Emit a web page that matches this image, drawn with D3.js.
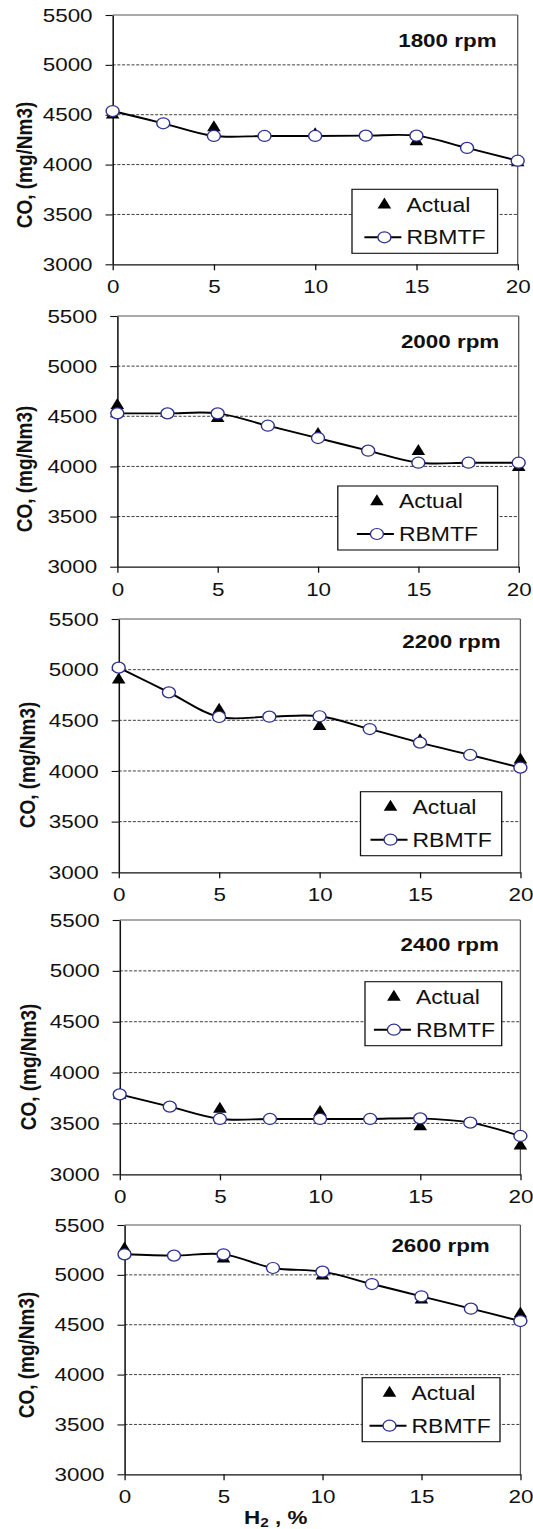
<!DOCTYPE html>
<html>
<head>
<meta charset="utf-8">
<script src="https://cdn.jsdelivr.net/npm/d3@7"></script>
<style>
  html, body { margin: 0; padding: 0; background: #fff; }
  svg { display: block; }
</style>
</head>
<body>
<div id="chart"></div>
<script>
// ---------- data ----------
const h2Actual = [0, 5, 10, 15, 20];
const h2Model = [0, 2.5, 5, 7.5, 10, 12.5, 15, 17.5, 20];

const panelTitles = ["1800 rpm", "2000 rpm", "2200 rpm", "2400 rpm", "2600 rpm"];

const actual1800 = [4500, 4370, 4300, 4230, 4020];
const model1800  = [4537, 4414, 4287, 4287, 4287, 4290, 4290, 4167, 4039];
const actual2000 = [4610, 4480, 4320, 4150, 3990];
const model2000  = [4529, 4529, 4529, 4406, 4283, 4157, 4037, 4037, 4037];
const actual2200 = [4900, 4600, 4440, 4300, 4110];
const model2200  = [5020, 4776, 4533, 4536, 4540, 4414, 4280, 4158, 4033];
const actual2400 = [3780, 3640, 3610, 3470, 3280];
const model2400  = [3786, 3665, 3544, 3544, 3544, 3544, 3550, 3508, 3377];
const actual2600 = [5260, 5160, 4990, 4750, 4610];
const model2600  = [5206, 5193, 5206, 5069, 5032, 4908, 4785, 4661, 4537];

const actualSeries = [actual1800, actual2000, actual2200, actual2400, actual2600];
const modelSeries  = [model1800, model2000, model2200, model2400, model2600];

const xTicks = [0, 5, 10, 15, 20];
const yTicks = [3000, 3500, 4000, 4500, 5000, 5500];
const gridValues = [3500, 4000, 4500, 5000];
const legendLabels = ["Actual", "RBMTF"];
const yLabel = "CO, (mg/Nm3)";

// ---------- layout (image px) ----------
const W = 533, H = 1529, S = 1.18;          // horizontal stretch of the original
const VW = W / S;
const panelTop    = [15, 316, 619, 920, 1225];
const panelBottom = [264.3, 566.7, 872.3, 1174.3, 1474.3];
const panelLeft   = [112.6, 117.3, 118.7, 119.7, 124.5];
const panelRight  = [517.7, 518.7, 520.4, 520.4, 520.4];
const titleRight  = [496.6, 499.3, 500.7, 499, 489.8];
const titleBase   = [46.7, 348, 648, 950.7, 1251.7];
const yLabX       = [32.3, 32.3, 35, 35.5, 34];
const yLabY       = [165, 469, 765, 1067, 1355];
// legend: left, top, width, symbol x
const legendBox = [
  [352, 189.3, 145.6, 384.4],
  [337.8, 486, 159.8, 376.9],
  [360.5, 791.7, 141.2, 390.5],
  [365, 981.7, 136.7, 393.9],
  [362.2, 1377.7, 137.8, 389.5]
];

const FONT = "'Liberation Sans', Arial, Helvetica, sans-serif";
const FS = 19;

const svg = d3.select("#chart").append("svg")
  .attr("width", W).attr("height", H)
  .attr("viewBox", `0 0 ${VW} ${H}`)
  .attr("preserveAspectRatio", "none")
  .style("font-family", FONT);

const triangle = {
  draw(ctx, size) {
    const w = 11.5, h = 11;
    ctx.moveTo(0, -h * 2 / 3);
    ctx.lineTo(w / 2, h / 3);
    ctx.lineTo(-w / 2, h / 3);
    ctx.closePath();
  }
};
const triPath = d3.symbol().type(triangle)();
const circleStroke = "#2b2f8f";

for (let i = 0; i < 5; i++) {
  const L = panelLeft[i] / S, R = panelRight[i] / S;
  const T = panelTop[i], B = panelBottom[i];
  const x = d3.scaleLinear().domain([0, 20]).range([L, R]);
  const y = d3.scaleLinear().domain([3000, 5500]).range([B, T]);
  const g = svg.append("g");

  // gridlines
  g.selectAll(".grid").data(gridValues).join("line")
    .attr("x1", L).attr("x2", R)
    .attr("y1", d => y(d)).attr("y2", d => y(d))
    .attr("stroke", "#222").attr("stroke-width", 0.8)
    .attr("stroke-dasharray", "2.6,1.4");

  // top / right border
  g.append("line").attr("x1", L).attr("x2", R).attr("y1", T).attr("y2", T)
    .attr("stroke", "#555").attr("stroke-width", 1.2);
  g.append("line").attr("x1", R).attr("x2", R).attr("y1", T).attr("y2", B)
    .attr("stroke", "#555").attr("stroke-width", 1.1);

  // axes
  const ax = g.append("g").attr("transform", `translate(0,${B})`)
    .call(d3.axisBottom(x).tickValues(xTicks).tickFormat(d3.format("d"))
      .tickSize(6).tickSizeOuter(0).tickPadding(9.5));
  const ay = g.append("g").attr("transform", `translate(${L},0)`)
    .call(d3.axisLeft(y).tickValues(yTicks).tickFormat(d3.format("d"))
      .tickSize(6).tickSizeOuter(0).tickPadding(11));
  [ax, ay].forEach(a => {
    a.attr("font-family", FONT).attr("font-size", FS);
    a.select(".domain").attr("stroke", "#111").attr("stroke-width", 1.3);
    a.selectAll(".tick line").attr("stroke", "#111").attr("stroke-width", 1.1);
    a.selectAll(".tick text").attr("fill", "#111");
  });

  // Actual (triangles)
  const aData = h2Actual.map((h, k) => [h, actualSeries[i][k]]);
  g.selectAll(".tri").data(aData).join("path")
    .attr("d", triPath)
    .attr("transform", d => `translate(${x(d[0])},${y(d[1])})`)
    .attr("fill", "#000");

  // RBMTF line + circles
  const mData = h2Model.map((h, k) => [h, modelSeries[i][k]]);
  const line = d3.line().x(d => x(d[0])).y(d => y(d[1]))
    .curve(d3.curveCatmullRom.alpha(0.5));
  g.append("path").datum(mData).attr("d", line)
    .attr("fill", "none").attr("stroke", "#000").attr("stroke-width", 1.9);
  g.selectAll(".pt").data(mData).join("circle")
    .attr("cx", d => x(d[0])).attr("cy", d => y(d[1])).attr("r", 5.5)
    .attr("fill", "#fff").attr("stroke", circleStroke).attr("stroke-width", 1.2);

  // title
  g.append("text").attr("x", titleRight[i] / S).attr("y", titleBase[i])
    .attr("text-anchor", "end").attr("font-weight", "bold")
    .attr("font-size", FS).attr("fill", "#111").text(panelTitles[i]);

  // y-axis label
  g.append("text")
    .attr("transform", `translate(${yLabX[i] / S},${yLabY[i]}) rotate(-90)`)
    .attr("text-anchor", "middle").attr("font-weight", "bold")
    .attr("font-size", FS).attr("fill", "#111").text(yLabel);

  // legend
  const [lx, ly, lw, sx] = legendBox[i];
  const lg = g.append("g");
  lg.append("rect").attr("x", lx / S).attr("y", ly).attr("width", lw / S).attr("height", 64)
    .attr("fill", "#fff").attr("stroke", "#111").attr("stroke-width", 1.1);
  const r1 = ly + 15.5, r2 = ly + 48;
  lg.append("path").attr("d", triPath)
    .attr("transform", `translate(${sx / S},${r1})`).attr("fill", "#000");
  lg.append("line").attr("x1", (sx - 20) / S).attr("x2", (sx + 17) / S)
    .attr("y1", r2).attr("y2", r2).attr("stroke", "#000").attr("stroke-width", 1.9);
  lg.append("circle").attr("cx", sx / S).attr("cy", r2).attr("r", 5.5)
    .attr("fill", "#fff").attr("stroke", circleStroke).attr("stroke-width", 1.2);
  lg.selectAll(".lt").data(legendLabels).join("text")
    .attr("x", (sx + 22) / S)
    .attr("y", (d, k) => (k === 0 ? r1 : r2) + 7)
    .attr("font-size", 19.5).attr("fill", "#111").text(d => d);
}

// x-axis title (bottom panel)
const xt = svg.append("text").attr("x", 244 / S).attr("y", 1524)
  .attr("font-weight", "bold").attr("font-size", FS).attr("fill", "#111");
xt.append("tspan").text("H");
xt.append("tspan").attr("font-size", 13).attr("dy", 3).text("2");
xt.append("tspan").attr("dy", -3).text(" , %");
</script>
</body>
</html>
